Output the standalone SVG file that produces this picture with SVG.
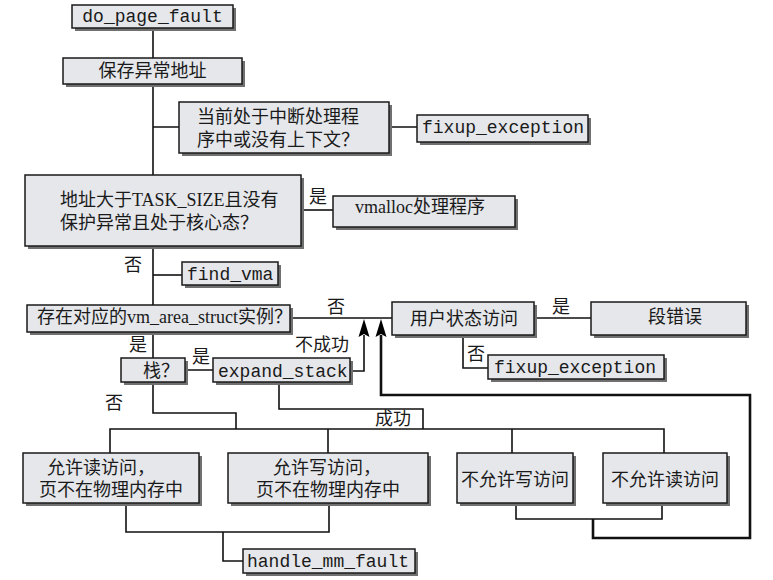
<svg xmlns="http://www.w3.org/2000/svg" width="773" height="580" viewBox="0 0 773 580">
<defs>
<style>
.box{fill:#e5e7eb;stroke:#1a1a1a;stroke-width:1.5}
.sh{fill:#707070}
.ln{fill:none;stroke:#111;stroke-width:1.6}
.thick{fill:none;stroke:#111;stroke-width:2.6}
.cn{font-family:"Liberation Serif","Noto Sans CJK SC",serif;font-size:18px;fill:#1a1a1a}
.mono{font-family:"Liberation Mono","DejaVu Sans Mono",monospace;font-size:18px;fill:#1a1a1a}
.mid{text-anchor:middle}
</style>
</defs>
<rect width="773" height="580" fill="#ffffff"/>
<g id="connectors">
<path class="ln" d="M153 28V58M153 84V175M153 246V305"/>
<path class="ln" d="M153 127H179M389 127H417"/>
<path class="ln" d="M301 210H333"/>
<path class="ln" d="M153 275H182"/>
<path class="ln" d="M290 318H392M534 318H591"/>
<path class="ln" d="M463 335V368H488"/>
<path class="ln" d="M153 332V358M185 370H213"/>
<path class="ln" d="M350 371H364V335"/>
<path class="thick" d="M381 335V395H750V538H593V519"/>
<path class="ln" d="M516 503V519H662V503"/>
<path class="ln" d="M279 382V409H423V429"/>
<path class="ln" d="M153 382V413H236V429"/>
<path class="ln" d="M110 453V429H664V453M328 429V453M512 429V453"/>
<path class="ln" d="M126 503V532H329V503M223 532V561H243"/>
<polygon points="364,319 369.5,337 364,334 358.5,337" fill="#000"/>
<polygon points="381,319 386.5,337 381,334 375.5,337" fill="#000"/>
</g>
<g id="n_do_page_fault"><rect class="sh" x="75" y="8" width="161" height="23"/><rect class="box" x="72" y="5" width="161" height="23"/><text class="mono mid" x="152.5" y="22">do_page_fault</text></g>
<g id="n_save"><rect class="sh" x="66" y="61" width="179" height="26"/><rect class="box" x="63" y="58" width="179" height="26"/><text class="cn mid" x="152.5" y="77">保存异常地址</text></g>
<g id="n_interrupt"><rect class="sh" x="182" y="105" width="210" height="51"/><rect class="box" x="179" y="102" width="210" height="51"/><text class="cn" x="197" y="123">当前处于中断处理程</text><text class="cn" x="197" y="146">序中或没有上下文？</text></g>
<g id="n_fixup1"><rect class="sh" x="420" y="118" width="171" height="27"/><rect class="box" x="417" y="115" width="171" height="27"/><text class="mono" x="422" y="133">fixup_exception</text></g>
<g id="n_tasksize"><rect class="sh" x="28" y="178" width="276" height="71"/><rect class="box" x="25" y="175" width="276" height="71"/><text class="cn" x="60" y="206">地址大于TASK_SIZE且没有</text><text class="cn" x="60" y="229">保护异常且处于核心态？</text></g>
<text class="cn" x="309" y="203">是</text>
<g id="n_vmalloc"><rect class="sh" x="336" y="199" width="182" height="31"/><rect class="box" x="333" y="196" width="182" height="31"/><text class="cn" x="355" y="213">vmalloc处理程序</text></g>
<text class="cn" x="124" y="271">否</text>
<g id="n_find_vma"><rect class="sh" x="185" y="265" width="96" height="23"/><rect class="box" x="182" y="262" width="96" height="23"/><text class="mono" x="187" y="280">find_vma</text></g>
<g id="n_vma_exists"><rect class="sh" x="30" y="308" width="263" height="27"/><rect class="box" x="27" y="305" width="263" height="27"/><text class="cn" x="37" y="323">存在对应的vm_area_struct实例？</text></g>
<text class="cn" x="327" y="313">否</text>
<g id="n_user"><rect class="sh" x="395" y="305" width="142" height="33"/><rect class="box" x="392" y="302" width="142" height="33"/><text class="cn mid" x="464" y="325">用户状态访问</text></g>
<text class="cn" x="552" y="313">是</text>
<g id="n_segv"><rect class="sh" x="594" y="305" width="155" height="33"/><rect class="box" x="591" y="302" width="155" height="33"/><text class="cn mid" x="675" y="323">段错误</text></g>
<text class="cn" x="467" y="360">否</text>
<g id="n_fixup2"><rect class="sh" x="491" y="358" width="176" height="24"/><rect class="box" x="488" y="355" width="176" height="24"/><text class="mono" x="494" y="373">fixup_exception</text></g>
<text class="cn" x="129" y="351">是</text>
<g id="n_stack"><rect class="sh" x="124" y="361" width="64" height="24"/><rect class="box" x="121" y="358" width="64" height="24"/><text class="cn" x="143" y="377">栈？</text></g>
<text class="cn" x="192" y="363">是</text>
<text class="cn" x="295" y="351">不成功</text>
<g id="n_expand"><rect class="sh" x="216" y="361" width="137" height="24"/><rect class="box" x="213" y="358" width="137" height="24"/><text class="mono" x="218" y="377">expand_stack</text></g>
<text class="cn" x="105" y="409">否</text>
<text class="cn" x="375" y="425">成功</text>
<g id="n_read_ok"><rect class="sh" x="26" y="456" width="176" height="50"/><rect class="box" x="23" y="453" width="176" height="50"/><text class="cn" x="47" y="474">允许读访问，</text><text class="cn mid" x="111" y="496">页不在物理内存中</text></g>
<g id="n_write_ok"><rect class="sh" x="231" y="456" width="200" height="50"/><rect class="box" x="228" y="453" width="200" height="50"/><text class="cn" x="273" y="474">允许写访问，</text><text class="cn mid" x="328" y="496">页不在物理内存中</text></g>
<g id="n_write_no"><rect class="sh" x="460" y="456" width="116" height="50"/><rect class="box" x="457" y="453" width="116" height="50"/><text class="cn mid" x="515" y="486">不允许写访问</text></g>
<g id="n_read_no"><rect class="sh" x="606" y="456" width="124" height="50"/><rect class="box" x="603" y="453" width="124" height="50"/><text class="cn mid" x="665" y="486">不允许读访问</text></g>
<g id="n_handle"><rect class="sh" x="246" y="552" width="172" height="24"/><rect class="box" x="243" y="549" width="172" height="24"/><text class="mono" x="247" y="567">handle_mm_fault</text></g>
</svg>
